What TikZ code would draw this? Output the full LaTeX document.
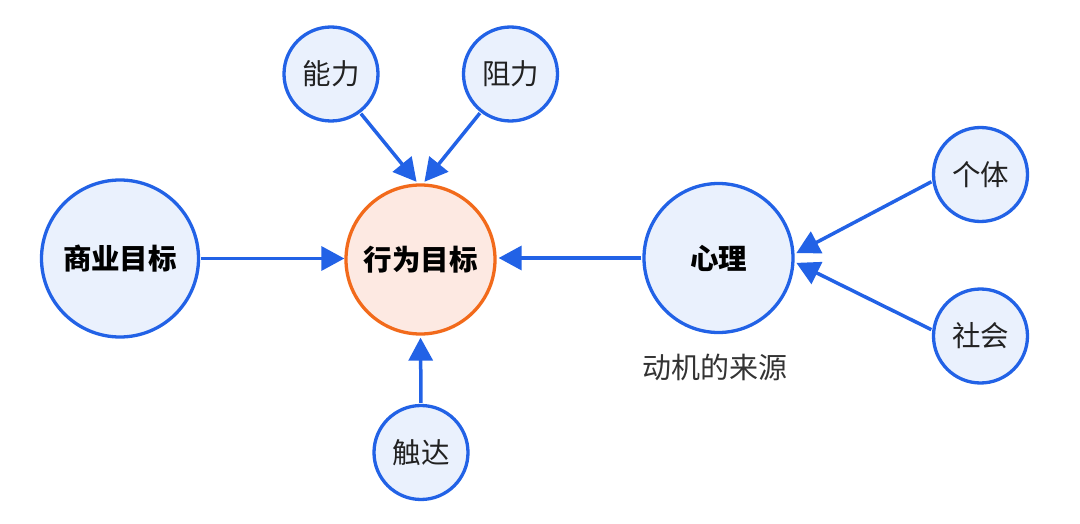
\documentclass[tikz,border=0pt]{standalone}
\usepackage{fontspec}
\setmainfont{Noto Sans CJK SC}
\usetikzlibrary{arrows.meta}
\definecolor{bblue}{HTML}{2262E6}
\definecolor{bfill}{HTML}{EAF1FD}
\definecolor{oorange}{HTML}{F26A1B}
\definecolor{ofill}{HTML}{FDE9E2}
\definecolor{txt}{HTML}{222222}
\definecolor{gtxt}{HTML}{333333}
\tikzset{
  bubble/.style={circle, draw=bblue, fill=bfill, line width=3.3pt, inner sep=0pt, text=txt, font=\fontsize{28.5}{30}\selectfont},
  bigbubble/.style={bubble, font=\fontsize{28.5}{30}\selectfont\bfseries, text=black},
  goalbubble/.style={bigbubble, draw=oorange, fill=ofill},
  arr/.style={draw=bblue, line width=3.5pt, -{Triangle[length=23pt,width=24pt]}},
  note/.style={text=gtxt, font=\fontsize{29}{31}\selectfont}
}
\begin{document}
\begin{tikzpicture}[x=1pt,y=-1pt]
\useasboundingbox (0,0) rectangle (1080,524);
\node[bigbubble, minimum size=157pt] (biz) at (120,258.5) {商业目标};
\node[goalbubble, minimum size=149pt] (goal) at (420.5,259.5) {行为目标};
\node[bigbubble, minimum size=149pt] (psy) at (718.5,258) {心理};
\node[bubble, minimum size=94pt] (abil) at (331,74) {能力};
\node[bubble, minimum size=94pt] (resi) at (510.5,74) {阻力};
\node[bubble, minimum size=94pt] (reach) at (421,452.5) {触达};
\node[bubble, minimum size=94pt] (indiv) at (980.5,174.5) {个体};
\node[bubble, minimum size=94pt] (soc) at (980.5,336) {社会};
\node[note] (src) at (714.5,367) {动机的来源};
\draw[arr, shorten <=1pt] (biz.east) -- (goal.west |- biz.east);
\draw[arr, shorten >=2pt, shorten <=1pt] (psy.west) -- (goal.east |- psy.west);
\draw[arr, shorten >=2pt, shorten <=1pt] (abil.-53) -- (goal.92);
\draw[arr, shorten >=2pt, shorten <=1pt] (resi.-128) -- (goal.88);
\draw[arr, shorten >=2pt, shorten <=1pt] (reach.north) -- (goal.south);
\draw[arr, shorten >=2pt, shorten <=1pt] (indiv.-172) -- (psy.3.5);
\draw[arr, shorten >=2pt, shorten <=1pt] (soc.173) -- (psy.-3.5);
\end{tikzpicture}
\end{document}
